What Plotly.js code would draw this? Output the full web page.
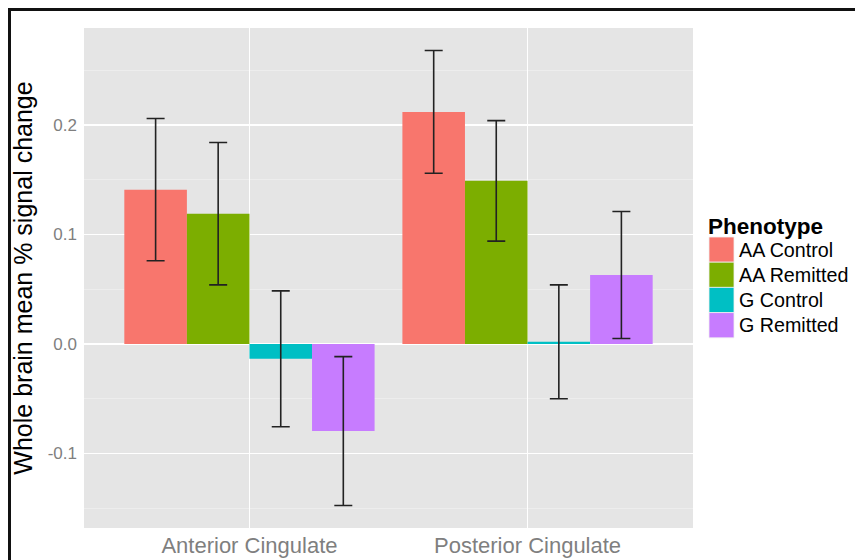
<!DOCTYPE html>
<html>
<head>
<meta charset="utf-8">
<script src="https://cdn.plot.ly/plotly-3.0.1.min.js"></script>
<style>
  html, body { margin: 0; padding: 0; width: 855px; height: 560px; overflow: hidden; background: #fff; }
  #frame { position: absolute; left: 8px; top: 8px; width: 1000px; height: 1000px;
           border-left: 3px solid #111; border-top: 3px solid #111; z-index: 2; pointer-events: none; }
  #chart { position: absolute; left: 0; top: 0; width: 855px; height: 560px; z-index: 1; }
</style>
</head>
<body>
<div id="frame"></div>
<div id="chart"></div>
<script>
// ---- data ----
const regions = ["Anterior Cingulate", "Posterior Cingulate"];
const phenotypes = ["AA Control", "AA Remitted", "G Control", "G Remitted"];
const colors = ["#F8766D", "#7CAE00", "#00BFC4", "#C77CFF"];
const aaControlMean   = [0.141, 0.212];
const aaRemittedMean  = [0.119, 0.149];
const gControlMean    = [-0.0135, 0.002];
const gRemittedMean   = [-0.0795, 0.063];
const aaControlErr    = [0.065, 0.056];
const aaRemittedErr   = [0.065, 0.055];
const gControlErr     = [0.062, 0.052];
const gRemittedErr    = [0.068, 0.058];
const yTickVals = [-0.1, 0.0, 0.1, 0.2];
const yTickText = ["-0.1", "0.0", "0.1", "0.2"];

const means = [aaControlMean, aaRemittedMean, gControlMean, gRemittedMean];
const errs  = [aaControlErr, aaRemittedErr, gControlErr, gRemittedErr];

const FONT = "Liberation Sans, Arial, Helvetica, sans-serif";

const traces = phenotypes.map((p, i) => ({
  type: "bar",
  name: p,
  x: regions,
  y: means[i],
  marker: { color: colors[i], line: { width: 0 } },
  error_y: { type: "data", array: errs[i], visible: true, color: "#222", thickness: 1.6, width: 9 },
  showlegend: false,
  hoverinfo: "skip"
}));

// plot area in pixels
const W = 855, H = 560;
const L = 84, R = 693, T = 28, B = 528;
const px2x = x => (x - L) / (R - L);
const px2y = y => (B - y) / (B - T);

// custom ggplot-like legend
const shapes = [];
const annotations = [];
annotations.push({
  xref: "paper", yref: "paper", x: px2x(706), y: px2y(226),
  xanchor: "left", yanchor: "middle", showarrow: false,
  text: "<b>Phenotype</b>", font: { family: FONT, size: 22.5, color: "#000" }
});
const keyTop = 237, keyH = 25.2;
phenotypes.forEach((p, i) => {
  const y0 = keyTop + i * keyH, y1 = y0 + keyH;
  shapes.push({
    type: "rect", xref: "paper", yref: "paper",
    x0: px2x(709), x1: px2x(734), y0: px2y(y1), y1: px2y(y0),
    fillcolor: colors[i], line: { width: 0.8, color: "#f0f0f0" }
  });
  annotations.push({
    xref: "paper", yref: "paper", x: px2x(737), y: px2y((y0 + y1) / 2),
    xanchor: "left", yanchor: "middle", showarrow: false,
    text: p, font: { family: FONT, size: 19.7, color: "#000" }
  });
});

const layout = {
  width: W, height: H,
  margin: { l: L, r: W - R, t: T, b: H - B, pad: 0 },
  paper_bgcolor: "rgba(255,255,255,0)",
  plot_bgcolor: "#e5e5e5",
  barmode: "group",
  bargap: 0.1,
  bargroupgap: 0,
  showlegend: false,
  font: { family: FONT },
  xaxis: {
    type: "category",
    range: [-0.595, 1.595],
    showgrid: true, gridcolor: "#ffffff", gridwidth: 1.5,
    zeroline: false, showline: false, ticks: "",
    tickfont: { family: FONT, size: 22, color: "#7f7f7f" },
    ticklabelstandoff: 2,
    fixedrange: true
  },
  yaxis: {
    range: [-0.168, 0.2886],
    tickvals: yTickVals, ticktext: yTickText,
    showgrid: true, gridcolor: "#ffffff", gridwidth: 1.5,
    minor: { dtick: 0.05, tick0: 0, showgrid: true, gridcolor: "#f2f2f2", gridwidth: 0.6, ticks: "" },
    zeroline: false, showline: false, ticks: "",
    tickfont: { family: FONT, size: 17, color: "#7f7f7f" },
    ticklabelstandoff: 6,
    title: { text: "Whole brain mean % signal change", font: { family: FONT, size: 25, color: "#000" }, standoff: 7 },
    automargin: false,
    fixedrange: true
  },
  shapes: shapes,
  annotations: annotations
};

Plotly.newPlot("chart", traces, layout, { displayModeBar: false, staticPlot: true });
</script>
</body>
</html>
